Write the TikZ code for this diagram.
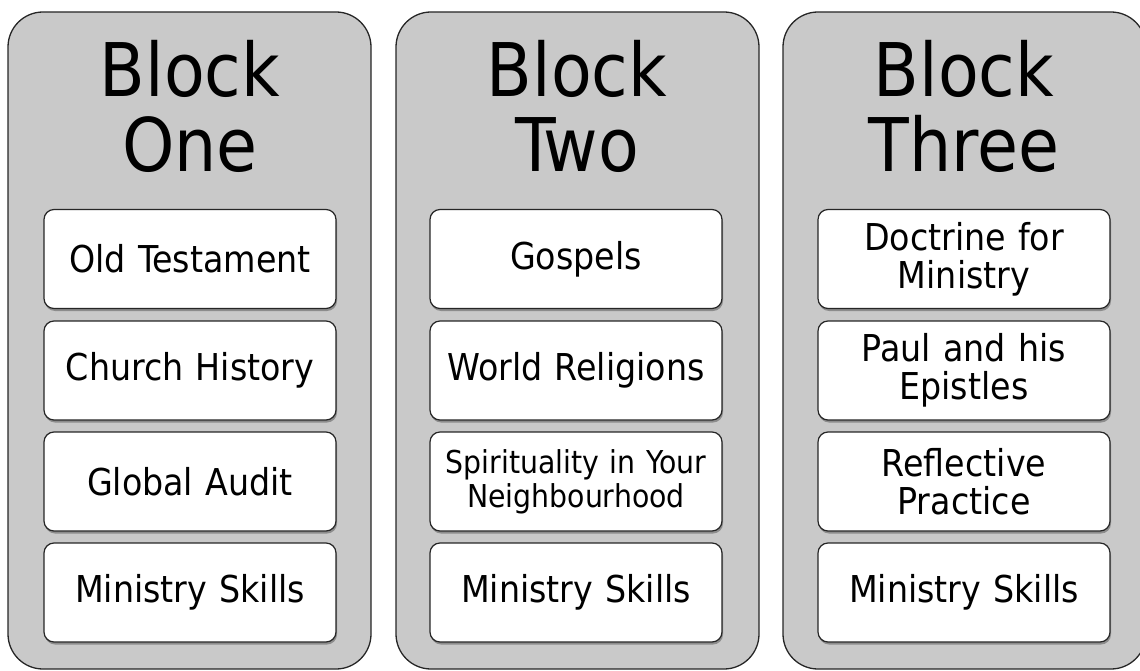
\documentclass[tikz,border=0pt]{standalone}
\usepackage{fontspec}
\setmainfont{DejaVu Sans Condensed}
\usetikzlibrary{shadows}
\definecolor{blockgray}{HTML}{C9C9C9}
\begin{document}
\begin{tikzpicture}[x=1pt,y=-1pt,
  blockbox/.style={draw=black!85, line width=1.3pt, fill=blockgray, rounded corners=35pt,
    minimum width=363pt, minimum height=657pt, inner sep=0pt},
  itembox/.style={draw=black!85, line width=1.2pt, fill=white, rounded corners=10pt,
    minimum width=292pt, minimum height=99pt, text width=284pt, align=center, inner sep=0pt,
    font=\fontsize{37}{38}\selectfont,
    drop shadow={shadow xshift=1pt, shadow yshift=-2.5pt, opacity=0.3, fill=black}},
  smalltext/.style={font=\fontsize{31.5}{34}\selectfont},
  titletext/.style={align=center, inner sep=0pt, font=\fontsize{74}{75}\selectfont}]
\useasboundingbox (0,0) rectangle (1140,671);
\clip (0,0) rectangle (1140,671);

% outer blocks
\node[blockbox] (b1) at (189.5,340.5) {};
\node[blockbox] (b2) at (577.5,340.5) {};
\node[blockbox] (b3) at (964.5,340.5) {};

% titles
\node[titletext] (t1) at (190,106.5) {Block\\One};
\node[titletext] (t2) at (577,106.5) {Block\\Two};
\node[titletext] (t3) at (964,106.5) {Block\\Three};

% block one
\node[itembox] (a1) at (190,259) {Old Testament};
\node[itembox] (a2) at (190,370.5) {Church History};
\node[itembox] (a3) at (190,481.5) {Global Audit};
\node[itembox] (a4) at (190,592.5) {Ministry Skills};

% block two
\node[itembox] (c1) at (576,259) {Gospels};
\node[itembox] (c2) at (576,370.5) {World Religions};
\node[itembox, smalltext] (c3) at (576,481.5) {Spirituality in Your\\Neighbourhood};
\node[itembox] (c4) at (576,592.5) {Ministry Skills};

% block three
\node[itembox] (d1) at (964,259) {Doctrine for\\Ministry};
\node[itembox] (d2) at (964,370.5) {Paul and his\\Epistles};
\node[itembox] (d3) at (964,481.5) {Reflective\\Practice};
\node[itembox] (d4) at (964,592.5) {Ministry Skills};
\end{tikzpicture}
\end{document}
